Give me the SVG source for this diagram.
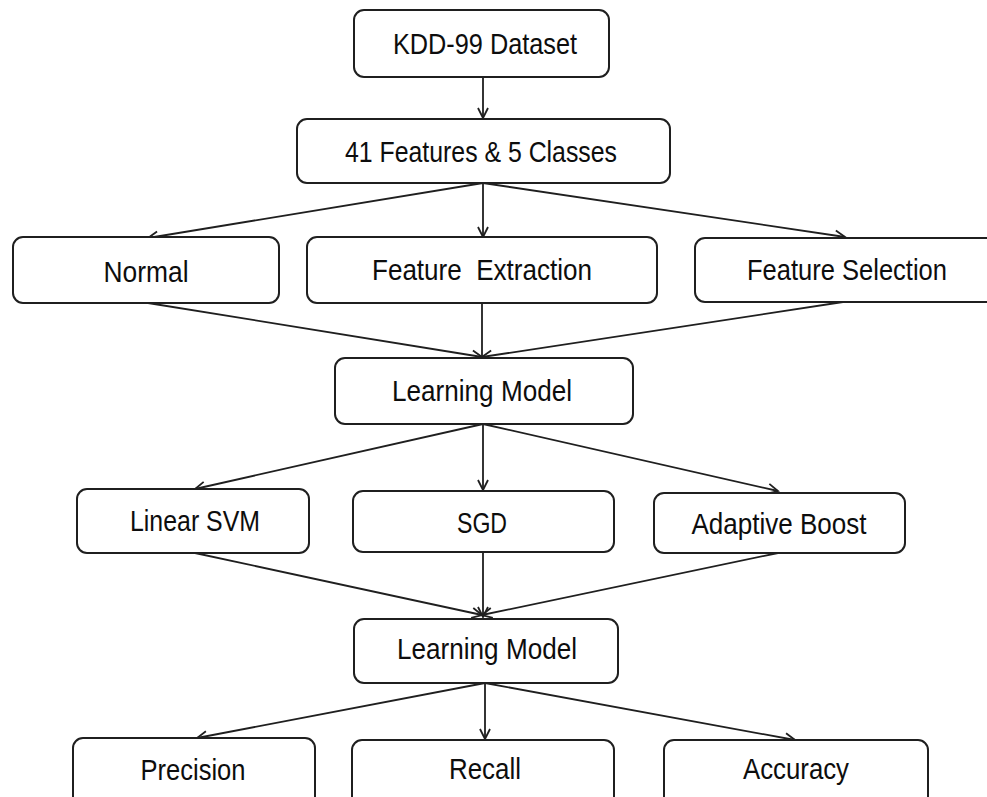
<svg xmlns="http://www.w3.org/2000/svg" width="987" height="797" viewBox="0 0 987 797">
  <style>
    .box { fill: #ffffff; stroke: #1f1f1f; stroke-width: 2; }
    .lbl { font-family: "Liberation Sans", Arial, sans-serif; font-size: 30px; fill: #0d0d0d; text-anchor: middle; }
    .edge { stroke: #1f1f1f; stroke-width: 1.8; fill: none; marker-end: url(#arrow); }
  </style>
  <defs>
    <marker id="arrow" markerUnits="userSpaceOnUse" markerWidth="14" markerHeight="14" viewBox="-12 -7 14 14" refX="0" refY="0" orient="auto">
      <path d="M-10,-5 L0,0 L-10,5" fill="none" stroke="#1f1f1f" stroke-width="1.8"/>
    </marker>
  </defs>
  <rect width="987" height="797" fill="#ffffff"/>

  <!-- connectors -->
  <g id="connectors">
    <line class="edge" x1="483" y1="77" x2="483" y2="118"/>
    <line class="edge" x1="483" y1="183" x2="148" y2="238"/>
    <line class="edge" x1="483" y1="183" x2="483" y2="237"/>
    <line class="edge" x1="483" y1="183" x2="845" y2="237"/>
    <line class="edge" x1="148" y1="303" x2="482" y2="357"/>
    <line class="edge" x1="482" y1="303" x2="482" y2="383"/>
    <line class="edge" x1="843" y1="302" x2="482" y2="357"/>
    <line class="edge" x1="483" y1="424" x2="195" y2="489"/>
    <line class="edge" x1="483" y1="424" x2="483" y2="490"/>
    <line class="edge" x1="483" y1="424" x2="778" y2="491"/>
    <line class="edge" x1="195" y1="553" x2="482" y2="615"/>
    <line class="edge" x1="483" y1="552" x2="483" y2="617"/>
    <line class="edge" x1="778" y1="553" x2="482" y2="615"/>
    <line class="edge" x1="485" y1="683" x2="197" y2="738"/>
    <line class="edge" x1="485" y1="683" x2="485" y2="739"/>
    <line class="edge" x1="485" y1="683" x2="795" y2="740"/>
  </g>

  <!-- nodes -->
  <g id="kdd">
    <rect class="box" x="354" y="10" width="255" height="67" rx="10"/>
    <text class="lbl" x="485" y="54" textLength="184" lengthAdjust="spacingAndGlyphs">KDD-99 Dataset</text>
  </g>
  <g id="features">
    <rect class="box" x="297" y="119" width="373" height="64" rx="10"/>
    <text class="lbl" x="481" y="162" textLength="272" lengthAdjust="spacingAndGlyphs">41 Features &amp; 5 Classes</text>
  </g>
  <g id="normal">
    <rect class="box" x="13" y="237" width="266" height="66" rx="10"/>
    <text class="lbl" x="146" y="282" textLength="85" lengthAdjust="spacingAndGlyphs">Normal</text>
  </g>
  <g id="extraction">
    <rect class="box" x="307" y="237" width="350" height="66" rx="10"/>
    <text class="lbl" x="482" y="280" textLength="220" lengthAdjust="spacingAndGlyphs" xml:space="preserve">Feature  Extraction</text>
  </g>
  <g id="selection">
    <rect class="box" x="695" y="238" width="305" height="64" rx="10"/>
    <text class="lbl" x="847" y="280" textLength="200" lengthAdjust="spacingAndGlyphs">Feature Selection</text>
  </g>
  <g id="model1">
    <rect class="box" x="335" y="358" width="298" height="66" rx="10"/>
    <text class="lbl" x="482" y="401" textLength="180" lengthAdjust="spacingAndGlyphs">Learning Model</text>
  </g>
  <g id="svm">
    <rect class="box" x="77" y="489" width="232" height="64" rx="10"/>
    <text class="lbl" x="195" y="531" textLength="130" lengthAdjust="spacingAndGlyphs">Linear SVM</text>
  </g>
  <g id="sgd">
    <rect class="box" x="353" y="491" width="261" height="61" rx="10"/>
    <text class="lbl" x="482" y="533" textLength="50" lengthAdjust="spacingAndGlyphs">SGD</text>
  </g>
  <g id="adaboost">
    <rect class="box" x="654" y="493" width="251" height="60" rx="10"/>
    <text class="lbl" x="779" y="534" textLength="175" lengthAdjust="spacingAndGlyphs">Adaptive Boost</text>
  </g>
  <g id="model2">
    <rect class="box" x="354" y="619" width="264" height="64" rx="10"/>
    <text class="lbl" x="487" y="659" textLength="180" lengthAdjust="spacingAndGlyphs">Learning Model</text>
  </g>
  <g id="precision">
    <rect class="box" x="73" y="738" width="242" height="70" rx="10"/>
    <text class="lbl" x="193" y="780" textLength="105" lengthAdjust="spacingAndGlyphs">Precision</text>
  </g>
  <g id="recall">
    <rect class="box" x="352" y="740" width="262" height="68" rx="10"/>
    <text class="lbl" x="485" y="779" textLength="72" lengthAdjust="spacingAndGlyphs">Recall</text>
  </g>
  <g id="accuracy">
    <rect class="box" x="664" y="740" width="264" height="68" rx="10"/>
    <text class="lbl" x="796" y="779" textLength="106" lengthAdjust="spacingAndGlyphs">Accuracy</text>
  </g>
</svg>
